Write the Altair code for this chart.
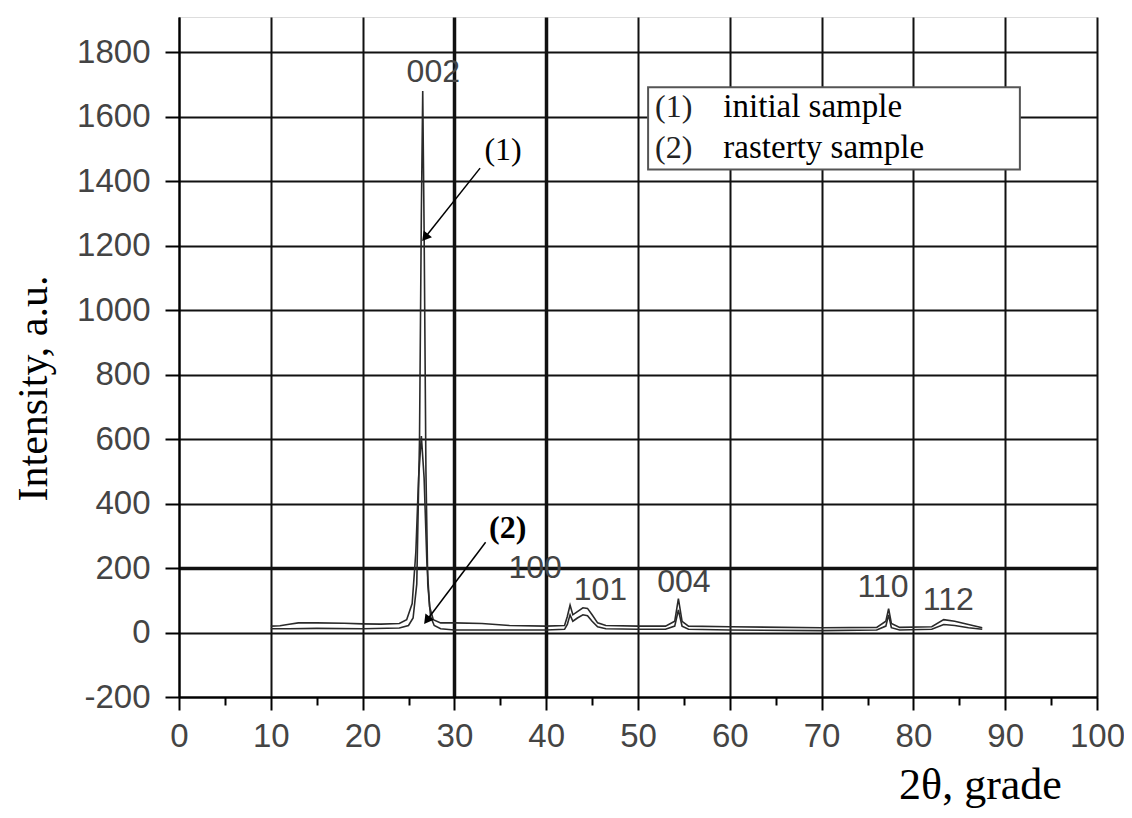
import altair as alt
import pandas as pd

# ---- data ----
# (1) initial sample
x_initial = [10, 12, 15, 20, 24, 25, 25.5, 25.9, 26.2, 26.4, 26.55, 26.7, 26.9, 27.1, 27.4, 27.8, 28.5,
             30, 35, 40, 42, 42.3, 42.6, 42.9, 43.4, 44.0, 44.5, 45.0, 45.6, 46.5, 50, 53, 54, 54.4,
             54.8, 55.5, 60, 70, 76, 77, 77.3, 77.6, 78.5, 82, 83.3, 84.5, 86, 87.5]
y_initial = [12, 12, 13, 12, 14, 22, 45, 150, 600, 1300, 1680, 1250, 500, 150, 50, 22, 12,
             8, 8, 8, 10, 25, 55, 35, 45, 55, 52, 35, 18, 12, 10, 10, 20, 70,
             20, 10, 8, 6, 8, 20, 55, 15, 8, 10, 25, 22, 15, 10]
# (2) rasterty sample
x_raster = [10, 11, 12, 13, 15, 18, 20, 22, 24, 24.8, 25.4, 25.8, 26.1, 26.4, 26.7, 27.0, 27.3, 27.7,
            28.5, 30, 33, 36, 40, 42, 42.3, 42.6, 42.9, 43.4, 44.0, 44.5, 45.0, 45.6, 46.5, 50, 53,
            54, 54.4, 54.8, 55.5, 60, 70, 76, 77, 77.3, 77.6, 78.5, 82, 83.3, 84.5, 86, 87.5]
y_raster = [20, 21, 26, 30, 30, 29, 27, 26, 28, 40, 90, 250, 480, 610, 480, 220, 80, 40,
            30, 30, 28, 22, 20, 22, 50, 85, 55, 65, 77, 75, 55, 30, 22, 20, 20,
            35, 105, 35, 20, 18, 15, 16, 35, 74, 28, 16, 18, 40, 35, 25, 15]

peak_labels = ["002", "100", "101", "004", "110", "112"]
peak_x = [27.7, 38.8, 45.9, 55.0, 76.7, 83.8]
peak_y = [1707, 169, 100, 125, 109, 69]

ann_text = ["(1)", "(2)"]
ann_x = [35.3, 35.8]
ann_y = [1466, 293]
ann_bold = [False, True]
arrow_x_start = [32.8, 33.4]
arrow_y_start = [1441, 280]
arrow_x_end = [26.8, 27.0]
arrow_y_end = [1226, 38]
arrow_angle = [218.5, 217]

legend_nums = ["(1)", "(2)"]
legend_names = ["initial sample", "rasterty sample"]
legend_num_x = [51.85, 51.85]
legend_name_x = [59.3, 59.3]
legend_row_y = [1599, 1471]
legend_box_x = [51.1]
legend_box_x2 = [91.6]
legend_box_y = [1692]
legend_box_y2 = [1437]

x_ticks = [v * 5 for v in range(0, 21)]
y_ticks = [v * 100 for v in range(-2, 19)]
x_domain = [0, 100]
y_domain = [-200, 1910]

# ---- tables ----
curves = pd.concat([
    pd.DataFrame({"x": x_initial, "y": y_initial, "s": "initial sample"}),
    pd.DataFrame({"x": x_raster, "y": y_raster, "s": "rasterty sample"}),
])
peaks = pd.DataFrame({"t": peak_labels, "x": peak_x, "y": peak_y})
ann = pd.DataFrame({"t": ann_text, "x": ann_x, "y": ann_y, "b": ann_bold})
arrows = pd.DataFrame({"x": arrow_x_start, "y": arrow_y_start,
                       "x2": arrow_x_end, "y2": arrow_y_end, "a": arrow_angle})
legend_rows = pd.DataFrame({"n": legend_nums, "t": legend_names, "nx": legend_num_x,
                            "tx": legend_name_x, "y": legend_row_y})
legend_box = pd.DataFrame({"x": legend_box_x, "x2": legend_box_x2,
                           "y": legend_box_y, "y2": legend_box_y2})

SANS = "Liberation Sans"
SERIF = "Liberation Serif"

xscale = alt.Scale(domain=x_domain, nice=False, zero=False)
yscale = alt.Scale(domain=y_domain, nice=False, zero=False)

x_axis = alt.Axis(
    values=x_ticks,
    labelExpr="datum.value % 10 === 0 ? toString(datum.value) : ''",
    labelFont=SANS, labelFontSize=33, labelColor="#444444", labelPadding=10,
    labelFlush=False, labelOverlap=False,
    tickColor="black", tickWidth=2,
    tickSize={"condition": {"test": "datum.value % 10 === 0", "value": 13}, "value": 8},
    grid=True, gridColor="#111111",
    gridOpacity={"condition": {"test": "datum.value % 10 === 0", "value": 1}, "value": 0},
    gridWidth={"condition": {"test": "datum.value === 30 || datum.value === 40", "value": 3.5}, "value": 2},
    domainColor="black", domainWidth=2,
    title="2θ, grade", titleFont=SERIF, titleFontSize=44, titleFontWeight="normal",
    titleColor="black", titleX=801, titleY=101, titleAlign="center", titleBaseline="alphabetic",
)
y_axis = alt.Axis(
    values=y_ticks,
    labelExpr="datum.value % 200 === 0 ? toString(datum.value) : ''",
    labelFont=SANS, labelFontSize=33, labelColor="#444444", labelPadding=15,
    labelFlush=False, labelOverlap=False,
    tickColor="black", tickWidth=2,
    tickSize={"condition": {"test": "datum.value % 200 === 0", "value": 14}, "value": 7},
    grid=True, gridColor="#111111",
    gridOpacity={"condition": {"test": "datum.value % 200 === 0", "value": 1}, "value": 0},
    gridWidth={"condition": {"test": "datum.value === 200", "value": 3.5}, "value": 2},
    domainColor="black", domainWidth=2,
    title="Intensity, a.u.", titleFont=SERIF, titleFontSize=42, titleFontWeight="normal",
    titleColor="black", titleAngle=270, titleX=-133, titleY=371, titleAlign="center",
    titleBaseline="alphabetic",
)

lines = alt.Chart(curves).mark_line(color="#2a2a2a", strokeWidth=1.6).encode(
    x=alt.X("x:Q", scale=xscale, axis=x_axis),
    y=alt.Y("y:Q", scale=yscale, axis=y_axis),
    detail="s:N",
)

box = alt.Chart(legend_box).mark_rect(fill="white", stroke="#555555", strokeWidth=2).encode(
    x="x:Q", x2="x2:Q", y="y:Q", y2="y2:Q"
)
leg_num = alt.Chart(legend_rows).mark_text(
    font=SERIF, fontSize=32, align="left", baseline="alphabetic", color="#222222"
).encode(x="nx:Q", y="y:Q", text="n:N")
leg_txt = alt.Chart(legend_rows).mark_text(
    font=SERIF, fontSize=33, align="left", baseline="alphabetic", color="black"
).encode(x="tx:Q", y="y:Q", text="t:N")

peak_txt = alt.Chart(peaks).mark_text(
    font=SANS, fontSize=32, align="center", baseline="alphabetic", color="#444444"
).encode(x="x:Q", y="y:Q", text="t:N")

ann_txt_normal = alt.Chart(ann).transform_filter("!datum.b").mark_text(
    font=SERIF, fontSize=32, align="center", baseline="alphabetic", color="black",
    fontWeight="normal"
).encode(x="x:Q", y="y:Q", text="t:N")
ann_txt_bold = alt.Chart(ann).transform_filter("datum.b").mark_text(
    font=SERIF, fontSize=32, align="center", baseline="alphabetic", color="black",
    fontWeight="bold"
).encode(x="x:Q", y="y:Q", text="t:N")

arrow_lines = alt.Chart(arrows).mark_rule(color="black", strokeWidth=1.5).encode(
    x="x:Q", y="y:Q", x2="x2:Q", y2="y2:Q"
)
arrow_heads = alt.Chart(arrows).mark_point(
    shape="triangle-up", filled=True, color="black", size=110, opacity=1
).encode(x="x2:Q", y="y2:Q", angle=alt.Angle("a:Q", scale=None))

chart = alt.layer(
    lines, box, leg_num, leg_txt, peak_txt, ann_txt_normal, ann_txt_bold, arrow_lines, arrow_heads
).properties(
    width=918, height=680,
    autosize=alt.AutoSizeParams(type="none"),
    padding={"left": 171, "top": 9, "right": 27, "bottom": 113},
).configure_view(
    stroke="black", strokeWidth=2
).configure(background="white")

chart.save("out.html", embed_options={"renderer": "svg", "actions": False})
